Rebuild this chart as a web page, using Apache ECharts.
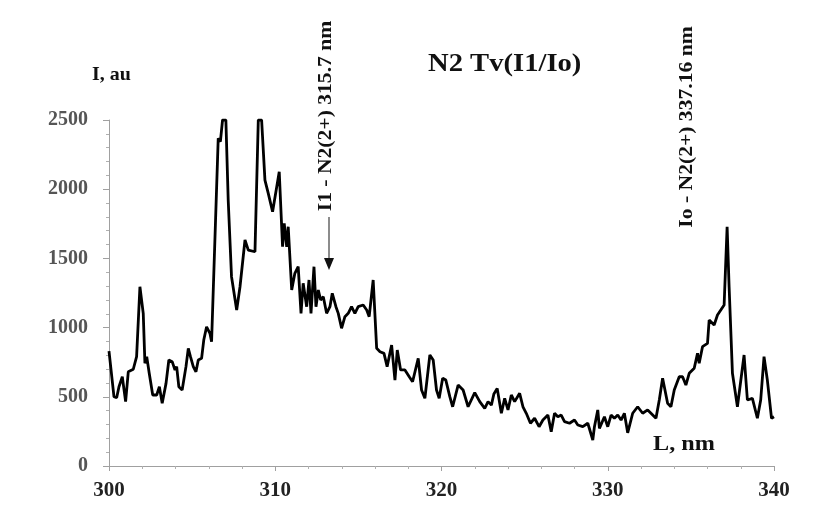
<!DOCTYPE html>
<html>
<head>
<meta charset="utf-8">
<script src="https://cdn.jsdelivr.net/npm/echarts@6/dist/echarts.min.js"></script>
<style>html,body{margin:0;padding:0;background:#fff}#c{width:824px;height:508px}</style>
</head>
<body>
<div id="c"></div>
<script>
// Wavelength (nm) and intensity (au)
var wavelengths = [300.0,300.3,300.46,300.6,300.8,301.0,301.16,301.46,301.66,301.86,302.06,302.16,302.27,302.42,302.63,302.87,303.03,303.2,303.43,303.6,303.8,303.97,304.07,304.2,304.4,304.63,304.77,304.9,305.07,305.23,305.37,305.57,305.7,305.87,306.07,306.17,306.37,306.57,306.7,306.83,307.03,307.17,307.37,307.68,307.88,308.18,308.38,308.78,308.98,309.18,309.38,309.58,309.84,310.24,310.44,310.54,310.69,310.78,310.99,311.18,311.38,311.55,311.68,311.89,312.03,312.15,312.33,312.45,312.59,312.73,312.89,313.09,313.29,313.43,313.65,313.79,313.99,314.19,314.39,314.59,314.79,314.99,315.29,315.5,315.65,315.89,316.1,316.3,316.54,316.73,317.0,317.2,317.34,317.54,317.8,318.06,318.26,318.6,318.8,319.0,319.3,319.5,319.7,319.86,320.07,320.26,320.5,320.67,321.0,321.3,321.6,322.0,322.3,322.6,322.8,323.0,323.15,323.35,323.6,323.8,324.0,324.2,324.4,324.7,324.9,325.1,325.35,325.6,325.87,326.1,326.4,326.6,326.8,327.0,327.2,327.4,327.7,328.0,328.2,328.5,328.8,329.1,329.2,329.4,329.5,329.8,330.0,330.2,330.4,330.6,330.8,331.0,331.2,331.5,331.8,332.1,332.4,332.6,332.9,333.1,333.3,333.6,333.8,334.0,334.3,334.5,334.7,334.9,335.2,335.4,335.5,335.7,336.0,336.1,336.4,336.6,336.8,337.0,337.18,337.3,337.5,337.8,338.2,338.4,338.7,339.0,339.2,339.4,339.6,339.85,340.0];
var intensity = [830,500,493,573,645,465,681,699,790,1295,1103,742,790,670,513,513,573,453,597,766,754,694,718,573,549,718,850,790,718,681,766,778,910,1006,959,898,1633,2368,2343,2500,2500,1922,1368,1127,1295,1633,1560,1548,2500,2500,2066,1970,1837,2126,1584,1753,1584,1729,1272,1392,1440,1103,1320,1151,1344,1103,1440,1151,1272,1199,1223,1103,1151,1248,1151,1103,995,1079,1103,1151,1103,1151,1163,1127,1079,1344,850,826,814,718,874,621,838,694,694,645,609,778,549,489,802,766,549,489,634,621,501,428,585,549,428,530,465,417,465,440,520,561,381,489,405,513,465,525,428,381,309,345,284,332,368,248,381,356,368,320,309,332,296,284,309,188,284,405,272,356,284,368,345,368,332,381,240,381,428,381,405,381,345,477,634,453,428,549,645,645,585,670,706,814,742,862,886,1055,1019,1091,1127,1163,1729,1295,670,428,802,477,489,345,477,790,621,345,356];
var xTicks = [300, 310, 320, 330, 340];
var yTicks = [0, 500, 1000, 1500, 2000, 2500];
var titleText = 'N2 Tv(I1/Io)';
var yName = 'I, au';
var xName = 'L, nm';
var note1 = 'I1 - N2(2+) 315.7 nm';
var note2 = 'Io - N2(2+) 337.16 nm';

var seriesData = wavelengths.map(function (w, i) { return [w, intensity[i]]; });
var serif = '"Liberation Serif", "Times New Roman", serif';

var chart = echarts.init(document.getElementById('c'), null, {renderer: 'canvas'});
chart.setOption({
  backgroundColor: '#ffffff',
  animation: false,
  grid: {left: 109, right: 50, top: 120, bottom: 42, containLabel: false},
  xAxis: {
    type: 'value', min: xTicks[0], max: xTicks[xTicks.length - 1], interval: 10,
    axisLine: {show: true, lineStyle: {color: '#a0a0a0', width: 1}},
    axisTick: {show: true, inside: false, length: 5, lineStyle: {color: '#a0a0a0'}},
    minorTick: {show: true, splitNumber: 5, length: 3, lineStyle: {color: '#b0b0b0'}},
    splitLine: {show: false},
    axisLabel: {margin: 14, fontFamily: serif, fontWeight: 'bold', fontSize: 21, color: '#222',
      formatter: function (v) { return String(v); }}
  },
  yAxis: {
    type: 'value', min: yTicks[0], max: yTicks[yTicks.length - 1], interval: 500,
    axisLine: {show: true, lineStyle: {color: '#a0a0a0', width: 1}},
    axisTick: {show: true, inside: false, length: 6, lineStyle: {color: '#a0a0a0'}},
    minorTick: {show: true, splitNumber: 5, length: 3, lineStyle: {color: '#b0b0b0'}},
    splitLine: {show: false},
    axisLabel: {margin: 21, fontFamily: serif, fontWeight: 'bold', fontSize: 20, color: '#555',
      formatter: function (v) { return String(v); }}
  },
  series: [{
    type: 'line', data: seriesData, showSymbol: false, smooth: false,
    lineStyle: {color: '#000', width: 2.8}, clip: true
  }],
  graphic: [
    {type: 'text', x: 428, y: 51, scaleX: 1.1, style: {text: titleText, font: 'bold 26px ' + serif, fill: '#111'}},
    {type: 'text', x: 92, y: 66, scaleX: 1.05, style: {text: yName, font: 'bold 19px ' + serif, fill: '#111'}},
    {type: 'text', x: 653, y: 433, scaleX: 1.1, style: {text: xName, font: 'bold 22px ' + serif, fill: '#111'}},
    {type: 'text', x: 326, y: 116, rotation: Math.PI / 2, scaleX: 1.2,
      style: {text: note1, font: 'bold 18px ' + serif, fill: '#111', align: 'center', verticalAlign: 'middle'}},
    {type: 'text', x: 687, y: 127, rotation: Math.PI / 2, scaleX: 1.2,
      style: {text: note2, font: 'bold 18px ' + serif, fill: '#111', align: 'center', verticalAlign: 'middle'}},
    {type: 'line', shape: {x1: 329, y1: 217, x2: 329, y2: 262}, style: {stroke: '#666', lineWidth: 1.5}},
    {type: 'polygon', shape: {points: [[324, 258], [334, 258], [329, 270]]}, style: {fill: '#111'}}
  ]
});
</script>
</body>
</html>
